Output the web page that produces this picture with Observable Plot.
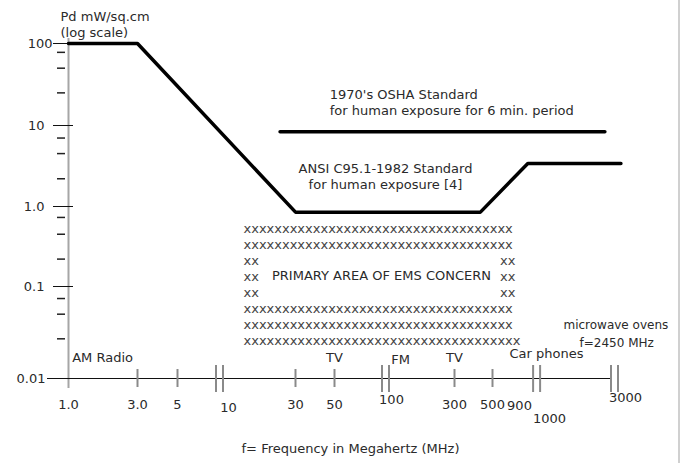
<!DOCTYPE html>
<html>
<head>
<meta charset="utf-8">
<script src="https://cdn.jsdelivr.net/npm/d3@7"></script>
<script src="https://cdn.jsdelivr.net/npm/@observablehq/plot@0.6"></script>
<style>
html, body { margin: 0; padding: 0; background: #fff; }
#wrap { width: 678px; height: 463px; overflow: hidden; border-right: 2px solid #d0d0d0; }
</style>
</head>
<body>
<div id="wrap"></div>
<script>
// ---- data ----
// x axis (frequency, MHz): tick values and labels
const xTickValues = [1, 3, 5, 10, 30, 50, 100, 300, 500, 900, 1000, 3000];
const xTickLabels = ["1.0", "3.0", "5", "10", "30", "50", "100", "300", "500", "900", "1000", "3000"];
const xPlainTicks = [3, 5, 30, 50, 300, 500];
const xBreaks = [10, 100, 950, 3000];
// y axis (power density, mW/sq.cm, log)
const yTickValues = [100, 10, 1, 0.1, 0.01];
const yTickLabels = ["100", "10", "1.0", "0.1", "0.01"];
const yMinorTicks = [78, 50, 25, 7, 4.5, 2.2, 0.73, 0.45, 0.22, 0.074, 0.05, 0.027];
// ANSI C95.1-1982 curve
const ansiFreq = [1, 3, 30, 425, 840, 3300];
const ansiPd = [100, 100, 0.85, 0.85, 3.4, 3.4];
// 1970's OSHA standard
const oshaFreq = [24, 2600];
const oshaPd = [8.4, 8.4];
// band labels along the frequency axis
const bandNames = ["AM Radio", "TV", "FM", "TV", "Car phones"];
const bandFreq = [1.72, 50, 127, 300, 1093];
const bandPd = [0.0169, 0.0169, 0.0161, 0.0169, 0.0187];
// standards labels
const stdNotes = ["1970's OSHA Standard\nfor human exposure for 6 min. period", "ANSI C95.1-1982 Standard\nfor human exposure [4]"];
const stdFreq = [47, 100];
const stdPd = [19.6, 2.41];
// microwave oven note
const ovenNotes = ["microwave ovens", "f=2450 MHz"];
const ovenFreq = [1406, 1785];
const ovenPd = [0.0377, 0.024];
// primary area of EMS concern block
const emsRows = [
  "xxxxxxxxxxxxxxxxxxxxxxxxxxxxxxxxxxx",
  "xxxxxxxxxxxxxxxxxxxxxxxxxxxxxxxxxxx",
  "xx",
  "xx",
  "xx",
  "xxxxxxxxxxxxxxxxxxxxxxxxxxxxxxxxxxx",
  "xxxxxxxxxxxxxxxxxxxxxxxxxxxxxxxxxxx",
  "xxxxxxxxxxxxxxxxxxxxxxxxxxxxxxxxxxxx"
];
const emsTexts = [emsRows.join("\n"), "xx\nxx\nxx", "PRIMARY AREA OF EMS CONCERN"];
const emsFreq = [14.15, 701, 94.7];
const emsPd = [0.109, 0.137, 0.137];
// titles
const yTitle = "Pd mW/sq.cm\n(log scale)";
const xTitle = "f= Frequency in Megahertz (MHz)";

// ---- helpers ----
const fmtX = v => xTickLabels[xTickValues.indexOf(v)];
const fmtY = v => yTickLabels[yTickValues.indexOf(v)];
const ink = "#2a2a2a";
const lh = 16 / 13;

const chart = Plot.plot({
  width: 678,
  height: 463,
  marginLeft: 68, marginRight: 10, marginTop: 43, marginBottom: 85,
  style: {fontFamily: "'DejaVu Sans', sans-serif", fontSize: "13px", color: ink, background: "white"},
  x: {type: "log", domain: xTickValues, range: [68, 137, 177, 219, 295, 334, 385, 454, 492, 532, 540, 614]},
  y: {type: "log", domain: yTickValues.slice().reverse(), range: [378, 286, 206, 125, 43]},
  marks: [
    // axis lines
    Plot.ruleX([xTickValues[0]], {stroke: "#a6a6a6", strokeWidth: 2, insetTop: -5, insetBottom: -10}),
    Plot.ruleY([yTickValues[4]], {stroke: "#111", strokeWidth: 1, insetLeft: -21, insetRight: 56}),
    // x ticks and breaks
    Plot.axisX({ticks: xPlainTicks, tickSize: 18, dy: -9, stroke: "#8a8a8a", strokeWidth: 2, fill: "none", label: null}),
    Plot.axisX({ticks: xBreaks, tickSize: 27, dy: -13, dx: -3.5, stroke: "#8a8a8a", strokeWidth: 2, fill: "none", label: null}),
    Plot.axisX({ticks: xBreaks, tickSize: 27, dy: -13, dx: 3.5, stroke: "#8a8a8a", strokeWidth: 2, fill: "none", label: null}),
    // y ticks
    Plot.axisY({ticks: yTickValues.slice(1, 4), tickSize: 20, dx: 5, stroke: "#111", fill: "none", label: null}),
    Plot.axisY({ticks: yTickValues.slice(0, 1), tickSize: 15, stroke: "#111", fill: "none", label: null}),
    Plot.axisY({ticks: yMinorTicks, tickSize: 8, dx: -3, stroke: "#222", strokeWidth: 1.5, fill: "none", label: null}),
    // y labels
    Plot.axisY({ticks: yTickValues.slice(1, 4), tickSize: 0, tickPadding: 24, tickFormat: fmtY, fill: ink, label: null}),
    Plot.axisY({ticks: yTickValues.slice(4), tickSize: 0, tickPadding: 23, tickFormat: fmtY, fill: ink, label: null}),
    Plot.axisY({ticks: yTickValues.slice(0, 1), tickSize: 0, tickPadding: 16, tickFormat: fmtY, fill: ink, label: null}),
    // x labels
    Plot.text([1, 3, 5, 30, 50, 300, 500], {x: d => d, text: fmtX, frameAnchor: "bottom", lineAnchor: "middle", dy: 26, fill: ink}),
    Plot.text([10], {x: d => d, text: fmtX, frameAnchor: "bottom", lineAnchor: "middle", dx: 9, dy: 29, fill: ink}),
    Plot.text([100], {x: d => d, text: fmtX, frameAnchor: "bottom", lineAnchor: "middle", dx: 6, dy: 21, fill: ink}),
    Plot.text([900], {x: d => d, text: fmtX, frameAnchor: "bottom", lineAnchor: "middle", dx: -13, dy: 27, fill: ink}),
    Plot.text([1000], {x: d => d, text: fmtX, frameAnchor: "bottom", lineAnchor: "middle", dx: 9, dy: 40, fill: ink}),
    Plot.text([3000], {x: d => d, text: fmtX, frameAnchor: "bottom", lineAnchor: "middle", dx: 11, dy: 19, fill: ink}),
    // titles
    Plot.text([yTitle], {text: d => d, frameAnchor: "top-left", textAnchor: "start", lineAnchor: "middle", lineHeight: lh, dx: -8, dy: -20, fill: ink}),
    Plot.text([xTitle], {text: d => d, frameAnchor: "bottom", lineAnchor: "middle", dx: -18, dy: 70, fill: ink}),
    // standards curves
    Plot.line(ansiFreq, {x: ansiFreq, y: ansiPd, stroke: "#000", strokeWidth: 3.5, strokeLinejoin: "miter"}),
    Plot.line(oshaFreq, {x: oshaFreq, y: oshaPd, stroke: "#000", strokeWidth: 3.5}),
    // standards labels
    Plot.text([0], {x: i => stdFreq[i], y: i => stdPd[i], text: i => stdNotes[i], textAnchor: "start", lineHeight: lh, fill: ink}),
    Plot.text([1], {x: i => stdFreq[i], y: i => stdPd[i], text: i => stdNotes[i], textAnchor: "middle", lineHeight: lh, fill: ink}),
    // band labels
    Plot.text(bandNames, {x: (d, i) => bandFreq[i], y: (d, i) => bandPd[i], text: d => d, fill: ink}),
    Plot.text(ovenNotes, {x: (d, i) => ovenFreq[i], y: (d, i) => ovenPd[i], text: d => d, textAnchor: "start", fontSize: 12, fill: ink}),
    // EMS concern block
    Plot.text([0], {x: i => emsFreq[i], y: i => emsPd[i], text: i => emsTexts[i], textAnchor: "start", lineHeight: lh, fill: "#444"}),
    Plot.text([1], {x: i => emsFreq[i], y: i => emsPd[i], text: i => emsTexts[i], textAnchor: "end", lineHeight: lh, fill: "#444"}),
    Plot.text([2], {x: i => emsFreq[i], y: i => emsPd[i], text: i => emsTexts[i], textAnchor: "middle", fill: ink})
  ]
});
document.getElementById("wrap").appendChild(chart);
</script>
</body>
</html>
